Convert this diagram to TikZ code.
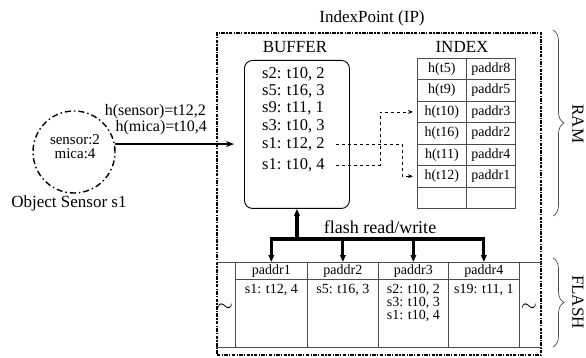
\documentclass[tikz,border=0pt]{standalone}
\usepackage{fontspec}
\setmainfont{Liberation Serif}
\usetikzlibrary{arrows.meta,decorations.pathreplacing,calc}
\begin{document}
\begin{tikzpicture}[x=1pt,y=-1pt,
  fs/.style={font=\fontsize{#1}{#1}\selectfont},
  ipframe/.style={draw, line width=1.8pt, dash pattern=on 3.5pt off 1.3pt on 1.3pt off 1.3pt,
    minimum width=324pt, minimum height=322pt, inner sep=0pt, anchor=north west},
  ring/.style={circle, draw, line width=1.4pt, dash pattern=on 6pt off 3pt on 1.5pt off 3pt,
    minimum size=82pt, inner sep=0pt},
  bufbox/.style={draw, rounded corners=8pt, line width=0.9pt, minimum width=105pt,
    minimum height=148pt, inner sep=0pt, anchor=north west},
  entry/.style={fs=16.5, anchor=west, inner sep=1pt},
  cell/.style={draw=black!70, line width=0.7pt, fs=14, inner sep=0pt, anchor=north west,
    minimum height=21.43pt},
  fcell/.style={draw=black!70, line width=0.7pt, inner sep=0pt, anchor=north west,
    minimum height=85pt},
  grid/.style={draw=black!70, line width=0.7pt},
  ptr/.style={dashed, line width=0.7pt, shorten >=4pt, -{Stealth[length=5pt,width=4pt]}},
  feed/.style={line width=1.1pt, shorten >=10pt, -{Stealth[length=8pt,width=6pt]}},
  bus/.style={line width=3.2pt},
  busarrow/.style={line width=3.2pt, -{Triangle[length=7pt,width=5.5pt]}},
  span/.style={decorate, decoration={brace, amplitude=11pt}, draw=black!70, line width=0.7pt},
  side/.style={fs=17, rotate=-90, inner sep=0pt}
]
\useasboundingbox (0,0) rectangle (586,358);

% IndexPoint frame and titles
\node[ipframe] (ip) at (216,32) {};
\node[fs=17] (iptitle) at (372,18) {IndexPoint (IP)};
\node[fs=17] (buftitle) at (295,47) {BUFFER};
\node[fs=17] (idxtitle) at (462,47) {INDEX};

% buffer with its entries
\node[bufbox] (buf) at (244,60) {};
\node[entry] (b1) at (261,74)  {s2: t10, 2};
\node[entry] (b2) at (261,91)  {s5: t16, 3};
\node[entry] (b3) at (261,108) {s9: t11, 1};
\node[entry] (b4) at (261,126) {s3: t10, 3};
\node[entry] (b5) at (261,144) {s1: t12, 2};
\node[entry] (b6) at (261,165) {s1: t10, 4};

% index table
\foreach \i/\k/\p in {1/h(t5)/paddr8, 2/h(t9)/paddr5, 3/h(t10)/paddr3, 4/h(t16)/paddr2,
                      5/h(t11)/paddr4, 6/h(t12)/paddr1, 7//} {
  \node[cell, minimum width=49pt] (k\i) at (417,{58+(\i-1)*21.43}) {\k};
  \node[cell, minimum width=49pt] (p\i) at (466,{58+(\i-1)*21.43}) {\p};
}

% pointers from buffer entries into the index
\coordinate (j1) at (392,0);
\coordinate (j2) at (370,0);
\draw[ptr] ([xshift=10pt]b5.east) -- ([xshift=10pt]b5.east -| j1) |- (k6.west);
\draw[ptr] ([xshift=10pt]b6.east) -- ([xshift=10pt]b6.east -| j2) |- (k3.west);

% object sensor
\node[ring] (sen) at (74,152) {};
\node[fs=15, inner sep=0pt] (sen1) at (75,140) {sensor:2};
\node[fs=15, inner sep=0pt] (sen2) at (75,154) {mica:4};
\node[fs=17] (senname) at (69,203) {Object Sensor s1};
\node[fs=16, anchor=east, inner sep=0pt] (hs) at (206,112) {h(sensor)=t12,2};
\node[fs=16, anchor=east, inner sep=0pt] (hm) at (207,128) {h(mica)=t10,4};
\draw[feed] (sen.11) -- (sen.11 -| buf.west);

% flash pages
\node[fcell, minimum width=72pt] (c1) at (235,262) {};
\node[fcell, minimum width=71pt] (c2) at (307,262) {};
\node[fcell, minimum width=70pt] (c3) at (378,262) {};
\node[fcell, minimum width=71pt] (c4) at (448,262) {};
\draw[grid] (ip.west |- c1.north) -- (ip.east |- c1.north);
\draw[grid] (ip.west |- c1.south) -- (ip.east |- c1.south);
\draw[grid] ([yshift=-17pt]c1.north west) -- ([yshift=-17pt]c4.north east);
\foreach \c/\h in {c1/paddr1, c2/paddr2, c3/paddr3, c4/paddr4}
  \node[fs=14] (\c h) at ([yshift=-9pt]\c.north) {\h};
\node[fs=14, anchor=north, align=left] (c1t) at ([yshift=-19pt]c1.north) {s1: t12, 4};
\node[fs=14, anchor=north, align=left] (c2t) at ([yshift=-19pt]c2.north) {s5: t16, 3};
\node[fs=14, anchor=north, align=left] (c3t) at ([yshift=-19pt]c3.north) {s2: t10, 2\\[-1pt]s3: t10, 3\\[-1pt]s1: t10, 4};
\node[fs=14, anchor=north, align=left] (c4t) at ([yshift=-19pt]c4.north) {s19: t11, 1};
\node[fs=20] (tl) at (225,308) {$\sim$};
\node[fs=20] (tr) at (529,308) {$\sim$};

% flash read/write bus
\coordinate (bar) at (0,239);
\draw[bus, line cap=rect] (c1.north |- bar) -- (c4.north |- bar);
\foreach \c in {c1,c2,c3,c4}
  \draw[busarrow] (\c.north |- bar) -- (\c.north);
\draw[busarrow] (buf.south |- bar) -- (buf.south);
\node[fs=18] (rw) at (380,227) {flash read/write};

% memory braces
\coordinate (ramtop) at (553,30);
\coordinate (rambot) at (553,216);
\coordinate (fltop) at (553,258);
\coordinate (flbot) at (553,347);
\draw[span] (ramtop) -- (rambot);
\draw[span] (fltop) -- (flbot);
\node[side] (ram) at (578,124) {RAM};
\node[side] (flash) at (578,302) {FLASH};
\end{tikzpicture}
\end{document}
